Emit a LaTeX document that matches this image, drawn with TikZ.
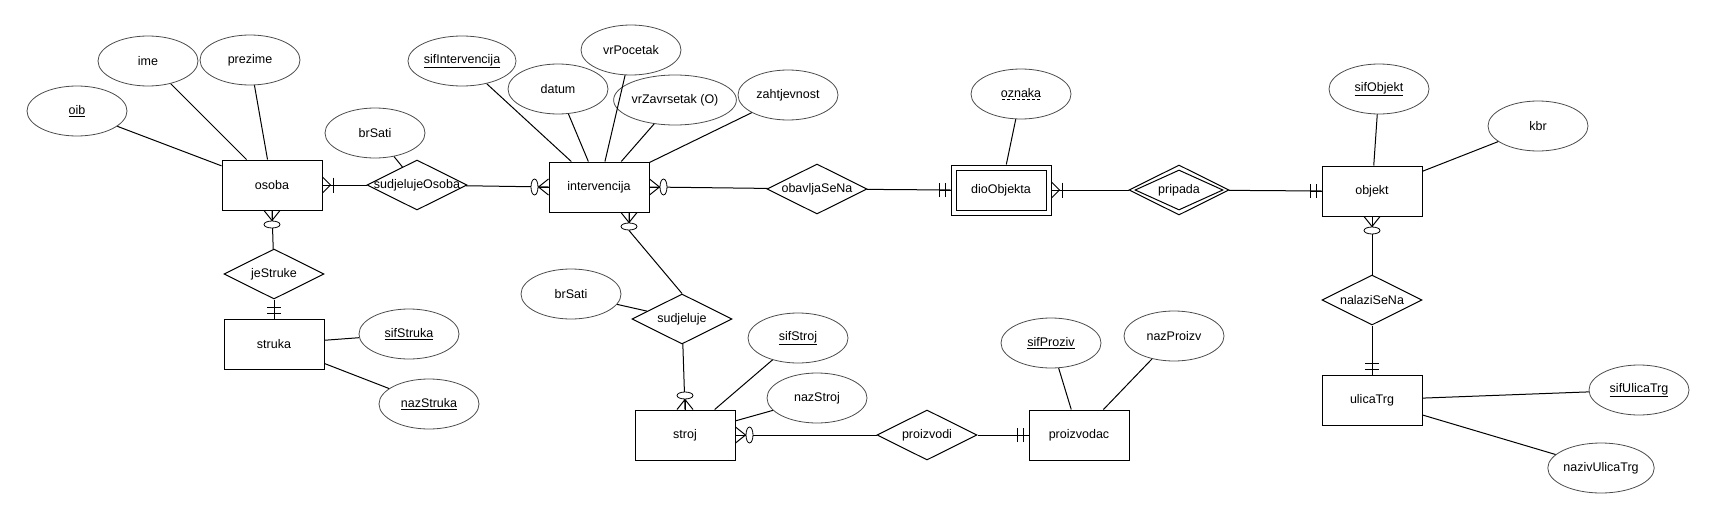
\documentclass[tikz,border=0pt]{standalone}
\usepackage{fontspec}
\setmainfont{Liberation Sans}
\usetikzlibrary{shapes.geometric}

% dashed underline for the partial key
\newcommand\dashkey[1]{\setbox0\hbox{#1}\leavevmode\rlap{\hbox to \wd0{\xleaders\hbox to 4.5pt{\hss\vrule height -1.6pt depth 2.4pt width 3pt\hss}\hfill}}\box0}

\tikzset{
  entity/.style = {draw, line width=1pt, minimum width=100pt, minimum height=50pt, inner sep=0pt},
  rel/.style = {draw, diamond, aspect=2, line width=1pt, minimum width=100pt, minimum height=50pt, inner sep=0pt},
  attr/.style = {draw=black!70, ellipse, line width=0.8pt, minimum width=100pt, minimum height=50pt, inner sep=0pt},
  link/.style = {line width=1pt},
  % crow's foot ends, drawn pointing away from the entity
  zeromany/.pic = {
    \draw[link] (0,-8) -- (10,0) -- (0,8);
    \draw[link] (0,0) -- (10,0);
    \draw[line width=0.8pt, fill=white] (14,0) ellipse [x radius=3.5pt, y radius=8pt];
  },
  onemany/.pic = {
    \draw[link] (0,-8) -- (8,0) -- (0,8);
    \draw[link] (0,0) -- (11,0);
    \draw[link] (11,-7.5) -- (11,7.5);
  },
  mandone/.pic = {
    \draw[link] (0,0) -- (11,0);
    \draw[link] (5,-7) -- (5,7);
    \draw[link] (11,-7) -- (11,7);
  }
}

\begin{document}
\begin{tikzpicture}[x=1pt, y=-1pt, every node/.style = {font=\fontsize{12.5}{15}\selectfont}]
  \useasboundingbox (0,0) rectangle (1715,519);

  % entities
  \node[entity] (osoba) at (272,185) {osoba};
  \node[entity] (struka) at (274,344) {struka};
  \node[entity] (intervencija) at (599,187) {intervencija};
  \node[entity] (dioObjekta) at (1001,190) {};
  \node[entity, minimum width=90pt, minimum height=40pt] (dioObjektaIn) at (dioObjekta) {dioObjekta};
  \node[entity] (objekt) at (1372,191) {objekt};
  \node[entity] (ulicaTrg) at (1372,400) {ulicaTrg};
  \node[entity] (stroj) at (685,435) {stroj};
  \node[entity] (proizvodac) at (1079,435) {proizvodac};

  % relationships
  \node[rel] (sudjelujeOsoba) at (417,185) {\makebox[0pt]{sudjelujeOsoba}};
  \node[rel] (jeStruke) at (274,274) {jeStruke};
  \node[rel] (obavljaSeNa) at (817,189) {obavljaSeNa};
  \node[rel] (pripada) at (1179,190) {};
  \node[rel, minimum width=88pt, minimum height=40pt] (pripadaIn) at (pripada) {pripada};
  \node[rel] (nalaziSeNa) at (1372,300) {nalaziSeNa};
  \node[rel] (sudjeluje) at (682,319) {sudjeluje};
  \node[rel] (proizvodi) at (927,435) {proizvodi};

  % attributes
  \node[attr] (oib) at (77,111) {\underline{oib}};
  \node[attr] (ime) at (148,61) {ime};
  \node[attr] (prezime) at (250,60) {prezime};
  \node[attr] (brSatiOsoba) at (375,133) {brSati};
  \node[attr] (sifIntervencija) at (462,61) {\underline{sifIntervencija}};
  \node[attr] (datum) at (558,89) {datum};
  \node[attr] (vrPocetak) at (631,50) {vrPocetak};
  \node[attr] (vrZavrsetak) at (675,100) {vrZavrsetak (O)};
  \node[attr] (zahtjevnost) at (788,95) {zahtjevnost};
  \node[attr] (oznaka) at (1021,94) {\dashkey{oznaka}};
  \node[attr] (sifObjekt) at (1379,89) {\underline{sifObjekt}};
  \node[attr] (kbr) at (1538,126) {kbr};
  \node[attr] (sifStruka) at (409,334) {\underline{sifStruka}};
  \node[attr] (nazStruka) at (429,404) {\underline{nazStruka}};
  \node[attr] (brSatiStroj) at (571,294) {brSati};
  \node[attr] (sifStroj) at (798,338) {\underline{sifStroj}};
  \node[attr] (nazStroj) at (817,398) {nazStroj};
  \node[attr] (sifProziv) at (1051,343) {\underline{sifProziv}};
  \node[attr] (nazProizv) at (1174,336) {nazProizv};
  \node[attr] (sifUlicaTrg) at (1639,390) {\underline{sifUlicaTrg}};
  \node[attr] (nazivUlicaTrg) at (1601,468) {nazivUlicaTrg};

  % attribute lines
  \foreach \a/\b in {oib/osoba, ime/osoba, prezime/osoba, brSatiOsoba/sudjelujeOsoba,
      sifIntervencija/intervencija, datum/intervencija, vrPocetak/intervencija,
      vrZavrsetak/intervencija, zahtjevnost/intervencija, oznaka/dioObjekta,
      sifObjekt/objekt, kbr/objekt, sifStruka/struka, nazStruka/struka,
      brSatiStroj/sudjeluje, sifStroj/stroj, nazStroj/stroj, sifProziv/proizvodac,
      nazProizv/proizvodac, sifUlicaTrg/ulicaTrg, nazivUlicaTrg/ulicaTrg}
    \draw[link] (\a) -- (\b);

  % relationship lines
  \coordinate (intBot) at ([xshift=30pt]intervencija.south);
  \draw[link] (osoba.east) -- (sudjelujeOsoba);
  \draw[link] (intervencija.west) -- (sudjelujeOsoba);
  \draw[link] (intervencija.east) -- (obavljaSeNa);
  \draw[link] (dioObjekta.west) -- (obavljaSeNa);
  \draw[link] (dioObjekta.east) -- (pripada);
  \draw[link] (objekt.west) -- (pripada);
  \draw[link] (objekt.south) -- (nalaziSeNa);
  \draw[link] (ulicaTrg.north) -- (nalaziSeNa);
  \draw[link] (osoba.south) -- (jeStruke);
  \draw[link] (struka.north) -- (jeStruke);
  \draw[link] (intBot) -- ++(0,18) -- (sudjeluje.north);
  \draw[link] (stroj.north) -- (sudjeluje);
  \draw[link] (stroj.east) -- (proizvodi);
  \draw[link] (proizvodac.west) -- (proizvodi);

  % cardinalities
  \pic at (osoba.east) {onemany};
  \pic[rotate=180] at (intervencija.west) {zeromany};
  \pic at (intervencija.east) {zeromany};
  \pic[rotate=180] at (dioObjekta.west) {mandone};
  \pic at (dioObjekta.east) {onemany};
  \pic[rotate=180] at (objekt.west) {mandone};
  \pic[rotate=-90] at (objekt.south) {zeromany};
  \pic[rotate=90] at (ulicaTrg.north) {mandone};
  \pic[rotate=-90] at (osoba.south) {zeromany};
  \pic[rotate=90] at (struka.north) {mandone};
  \pic[rotate=-90] at (intBot) {zeromany};
  \pic[rotate=90] at (stroj.north) {zeromany};
  \pic at (stroj.east) {zeromany};
  \pic[rotate=180] at (proizvodac.west) {mandone};
\end{tikzpicture}
\end{document}
